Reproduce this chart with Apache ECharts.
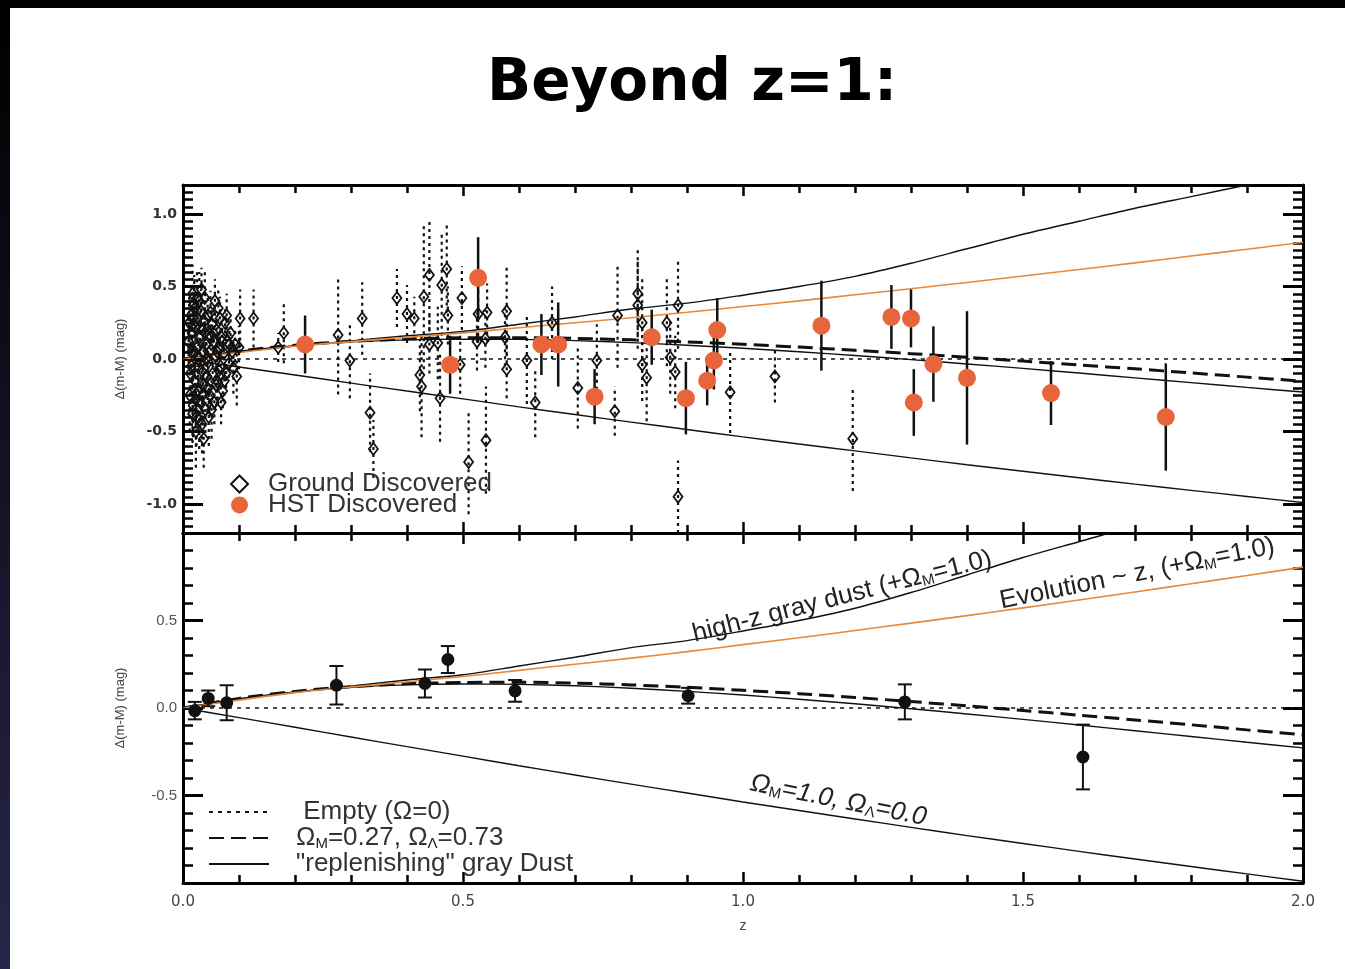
<!DOCTYPE html>
<html>
<head>
    <meta charset="UTF-8" />
    <title>Beyond z=1</title>
    <script src="https://cdn.jsdelivr.net/npm/echarts@6.0.0/dist/echarts.min.js"></script>
    <style>
        html, body { margin: 0; padding: 0; background: #fff; }
        #main { width: 1345px; height: 969px; }
    </style>
</head>
<body>
<div id="main"></div>
<script type="text/javascript">
// model curves, every 0.1 in z
var zGrid = [0.0, 0.1, 0.2, 0.3, 0.4, 0.5, 0.6, 0.7, 0.8, 0.9, 1.0,
             1.1, 1.2, 1.3, 1.4, 1.5, 1.6, 1.7, 1.8, 1.9, 2.0];
var emptyModel = [0, 0, 0, 0, 0, 0, 0, 0, 0, 0, 0, 0, 0, 0, 0, 0, 0, 0, 0, 0, 0];
var lcdmModel = [0, 0.055, 0.095, 0.122, 0.138, 0.146, 0.147, 0.142, 0.132, 0.118, 0.101,
                 0.082, 0.060, 0.037, 0.012, -0.014, -0.041, -0.068, -0.096, -0.125, -0.153];
var grayDustModel = [0, 0.053, 0.092, 0.118, 0.132, 0.137, 0.135, 0.127, 0.113, 0.095, 0.074,
                     0.050, 0.024, -0.004, -0.034, -0.065, -0.097, -0.130, -0.163, -0.196, -0.228];
var highzDustModel = [0, 0.050, 0.090, 0.125, 0.160, 0.190, 0.240, 0.290, 0.345, 0.385, 0.440,
                      0.500, 0.570, 0.660, 0.760, 0.860, 0.950, 1.040, 1.120, 1.200, 1.280];
var evolutionModel = [0, 0.045, 0.088, 0.120, 0.150, 0.180, 0.215, 0.250, 0.285, 0.322, 0.362,
                      0.401, 0.443, 0.485, 0.528, 0.572, 0.617, 0.663, 0.710, 0.757, 0.805];
var edsModel = [0, -0.055, -0.110, -0.166, -0.221, -0.275, -0.330, -0.383, -0.435, -0.486, -0.537,
                -0.586, -0.634, -0.682, -0.729, -0.774, -0.819, -0.863, -0.906, -0.948, -0.990];

// ground discovered SNe (open diamonds, dotted bars)
var gZ = [0.010, 0.012, 0.014, 0.015, 0.016, 0.017, 0.018, 0.019, 0.020, 0.021,
          0.022, 0.023, 0.024, 0.025, 0.026, 0.027, 0.028, 0.029, 0.030, 0.031,
          0.032, 0.033, 0.034, 0.035, 0.036, 0.037, 0.038, 0.039, 0.040, 0.041,
          0.043, 0.044, 0.045, 0.046, 0.047, 0.048, 0.050, 0.052, 0.053, 0.055,
          0.056, 0.058, 0.060, 0.062, 0.063, 0.065, 0.067, 0.069, 0.071, 0.073,
          0.075, 0.077, 0.079, 0.082, 0.085, 0.088, 0.090, 0.093, 0.096, 0.100,
          0.102, 0.126, 0.170, 0.180, 0.277, 0.298, 0.320, 0.334, 0.340, 0.382,
          0.400, 0.413, 0.423, 0.426, 0.430, 0.440, 0.440, 0.455, 0.459, 0.462,
          0.471, 0.473, 0.495, 0.498, 0.510, 0.525, 0.527, 0.540, 0.541, 0.543,
          0.575, 0.578, 0.578, 0.614, 0.629, 0.659, 0.705, 0.739, 0.771, 0.776,
          0.812, 0.812, 0.820, 0.820, 0.828, 0.864, 0.870, 0.879, 0.884, 0.884,
          0.977, 1.057, 1.196,
          0.011, 0.013, 0.015, 0.017, 0.019, 0.021, 0.023, 0.025, 0.027, 0.029,
          0.031, 0.033, 0.035, 0.037, 0.039, 0.042, 0.044, 0.049, 0.051, 0.054,
          0.057, 0.059, 0.061, 0.064, 0.066, 0.068, 0.070, 0.074, 0.078, 0.083];
var gDm = [0.12, -0.25, 0.30, -0.05, 0.18, 0.45, -0.32, 0.05, 0.38, -0.15,
           0.22, -0.50, -0.40, 0.08, 0.28, -0.22, 0.00, 0.40, 0.15, -0.30,
           0.33, -0.08, -0.45, 0.20, -0.18, 0.05, 0.26, 0.42, -0.35, 0.10,
           -0.12, 0.30, -0.02, -0.40, 0.17, -0.25, 0.06, 0.24, -0.10, 0.12,
           -0.30, 0.02, 0.20, -0.16, 0.35, 0.08, -0.05, 0.15, -0.22, 0.04,
           0.25, -0.10, 0.12, -0.03, 0.18, 0.05, -0.06, 0.10, -0.12, 0.08,
           0.28, 0.28, 0.08, 0.18, 0.165, -0.01, 0.28, -0.37, -0.62, 0.42,
           0.31, 0.28, -0.11, -0.19, 0.43, 0.58, 0.10, 0.11, -0.27, 0.51,
           0.62, 0.30, -0.04, 0.42, -0.71, 0.12, 0.31, 0.14, -0.56, 0.32,
           0.15, 0.33, -0.07, -0.01, -0.30, 0.25, -0.20, -0.01, -0.36, 0.30,
           0.45, 0.37, 0.25, -0.04, -0.13, 0.25, 0.01, -0.09, 0.37, -0.95,
           -0.23, -0.12, -0.55,
           0.25, -0.10, 0.05, -0.38, 0.28, 0.35, -0.28, 0.42, -0.05, -0.42,
           0.22, 0.48, -0.25, -0.55, 0.18, 0.00, -0.20, 0.32, -0.35, 0.18,
           0.40, -0.18, 0.05, -0.08, 0.28, -0.30, 0.12, -0.15, 0.30, 0.10];
var gErr = [0.15, 0.25, 0.20, 0.20, 0.18, 0.20, 0.22, 0.15, 0.20, 0.18,
            0.15, 0.25, 0.20, 0.12, 0.15, 0.15, 0.10, 0.20, 0.12, 0.18,
            0.15, 0.12, 0.20, 0.12, 0.14, 0.10, 0.12, 0.18, 0.16, 0.10,
            0.12, 0.14, 0.10, 0.20, 0.10, 0.14, 0.10, 0.12, 0.10, 0.10,
            0.15, 0.09, 0.10, 0.12, 0.14, 0.09, 0.10, 0.10, 0.12, 0.09,
            0.12, 0.10, 0.10, 0.10, 0.12, 0.10, 0.18, 0.12, 0.20, 0.15,
            0.20, 0.20, 0.10, 0.21, 0.41, 0.26, 0.25, 0.27, 0.20, 0.20,
            0.20, 0.15, 0.25, 0.35, 0.50, 0.38, 0.20, 0.25, 0.30, 0.35,
            0.30, 0.20, 0.20, 0.22, 0.36, 0.20, 0.20, 0.20, 0.37, 0.20,
            0.20, 0.30, 0.20, 0.30, 0.24, 0.25, 0.28, 0.25, 0.17, 0.36,
            0.30, 0.30, 0.30, 0.25, 0.30, 0.30, 0.25, 0.25, 0.30, 0.25,
            0.28, 0.18, 0.36,
            0.18, 0.20, 0.15, 0.20, 0.18, 0.20, 0.20, 0.18, 0.15, 0.20,
            0.15, 0.15, 0.18, 0.20, 0.15, 0.15, 0.18, 0.15, 0.20, 0.12,
            0.15, 0.15, 0.12, 0.12, 0.15, 0.15, 0.12, 0.15, 0.15, 0.12];

// HST discovered SNe (orange dots)
var hZ = [0.218, 0.477, 0.527, 0.640, 0.670, 0.735, 0.837, 0.898, 0.936, 0.948,
          0.954, 1.140, 1.265, 1.300, 1.305, 1.340, 1.400, 1.550, 1.755];
var hDm = [0.10, -0.04, 0.56, 0.10, 0.10, -0.26, 0.15, -0.27, -0.15, -0.01,
           0.20, 0.23, 0.29, 0.28, -0.30, -0.035, -0.13, -0.235, -0.40];
var hErr = [0.20, 0.20, 0.28, 0.21, 0.29, 0.19, 0.19, 0.25, 0.17, 0.20,
            0.22, 0.31, 0.22, 0.20, 0.23, 0.26, 0.46, 0.22, 0.37];

// binned data (lower panel)
var bZ = [0.021, 0.045, 0.078, 0.274, 0.432, 0.473, 0.593, 0.902, 1.289, 1.607];
var bDm = [-0.015, 0.055, 0.03, 0.13, 0.14, 0.277, 0.098, 0.07, 0.035, -0.28];
var bErr = [0.05, 0.045, 0.10, 0.11, 0.08, 0.077, 0.062, 0.045, 0.10, 0.185];

// tick labels
var xTicks = [0, 0.5, 1.0, 1.5, 2.0];
var topYTicks = [-1.0, -0.5, 0, 0.5, 1.0];
var bottomYTicks = [-0.5, 0, 0.5];

var NAME_EMPTY = 'Empty (Ω=0)';
var NAME_LCDM = 'ΩM=0.27, ΩΛ=0.73';
var NAME_GRAY = '"replenishing" gray Dust';

var FONT = 'Liberation Sans';
var INK = '#111';
var ORANGE = '#E8643A';

function pairs(xs, ys) {
    return xs.map(function (x, i) { return [x, ys[i]]; });
}
function bars(xs, ys, es) {
    return xs.map(function (x, i) { return [x, ys[i] - es[i], ys[i] + es[i]]; });
}
function fmt(v) { return (Math.abs(v) < 1e-9 ? 0 : v).toFixed(1); }

function errorBar(width, dash, cap) {
    return function (params, api) {
        var lo = api.coord([api.value(0), api.value(1)]);
        var hi = api.coord([api.value(0), api.value(2)]);
        var st = { stroke: INK, lineWidth: width, lineDash: dash };
        var kids = [{ type: 'line', shape: { x1: lo[0], y1: lo[1], x2: hi[0], y2: hi[1] }, style: st }];
        if (cap) {
            kids.push({ type: 'line', shape: { x1: lo[0] - cap, y1: lo[1], x2: lo[0] + cap, y2: lo[1] }, style: st });
            kids.push({ type: 'line', shape: { x1: hi[0] - cap, y1: hi[1], x2: hi[0] + cap, y2: hi[1] }, style: st });
        }
        return { type: 'group', children: kids };
    };
}

function xAxisCfg(grid, pos, labels) {
    return {
        type: 'value', gridIndex: grid, position: pos, min: 0, max: 2, interval: 0.5,
        axisLine: { onZero: false, lineStyle: { color: '#000', width: 3 } },
        axisTick: { inside: true, length: 11, lineStyle: { color: '#000', width: 2.5 } },
        minorTick: { show: true, splitNumber: 5, length: 8, lineStyle: { color: '#000', width: 2.5 } },
        splitLine: { show: false },
        axisLabel: { show: labels, customValues: xTicks, margin: 12, fontSize: 15, color: '#444',
                     fontFamily: 'DejaVu Sans', formatter: fmt },
        name: labels ? 'z' : '', nameLocation: 'middle', nameGap: 36,
        nameTextStyle: { fontSize: 14, color: '#444', fontFamily: FONT }
    };
}

var frameLine = { onZero: false, lineStyle: { color: '#000', width: 3 } };
var noLine = { show: false, onZero: false };

var yAxes = [
    // top panel, left: major ticks + labels
    { type: 'value', gridIndex: 0, position: 'left', min: -1.2, max: 1.2,
      axisLine: frameLine, splitLine: { show: false },
      axisTick: { inside: true, length: 20, customValues: topYTicks, lineStyle: { color: '#000', width: 3 } },
      axisLabel: { customValues: topYTicks, formatter: fmt, margin: 6, fontSize: 14, fontWeight: 'bold',
                   color: '#333', fontFamily: 'DejaVu Sans' },
      name: 'Δ(m-M) (mag)', nameLocation: 'middle', nameGap: 56,
      nameTextStyle: { fontSize: 13, color: '#444', fontFamily: FONT } },
    // top panel, left: minor ticks
    { type: 'value', gridIndex: 0, position: 'left', min: -1.2, max: 1.2, interval: 0.05,
      axisLine: noLine, axisLabel: { show: false }, splitLine: { show: false },
      axisTick: { inside: true, length: 10, lineStyle: { color: '#000', width: 2.5 } } },
    // top panel, right
    { type: 'value', gridIndex: 0, position: 'right', min: -1.2, max: 1.2,
      axisLine: frameLine, splitLine: { show: false }, axisLabel: { show: false },
      axisTick: { inside: true, length: 20, customValues: topYTicks, lineStyle: { color: '#000', width: 3 } } },
    { type: 'value', gridIndex: 0, position: 'right', min: -1.2, max: 1.2, interval: 0.05,
      axisLine: noLine, axisLabel: { show: false }, splitLine: { show: false },
      axisTick: { inside: true, length: 10, lineStyle: { color: '#000', width: 2.5 } } },
    // bottom panel, left
    { type: 'value', gridIndex: 1, position: 'left', min: -1, max: 1, interval: 0.5,
      axisLine: frameLine, splitLine: { show: false },
      axisTick: { inside: true, length: 20, lineStyle: { color: '#000', width: 3 } },
      minorTick: { show: true, splitNumber: 5, length: 10, lineStyle: { color: '#000', width: 2.5 } },
      axisLabel: { customValues: bottomYTicks, formatter: fmt, margin: 6, fontSize: 15,
                   color: '#555', fontFamily: FONT },
      name: 'Δ(m-M) (mag)', nameLocation: 'middle', nameGap: 56,
      nameTextStyle: { fontSize: 13, color: '#444', fontFamily: FONT } },
    // bottom panel, right
    { type: 'value', gridIndex: 1, position: 'right', min: -1, max: 1, interval: 0.5,
      axisLine: frameLine, splitLine: { show: false }, axisLabel: { show: false },
      axisTick: { inside: true, length: 20, lineStyle: { color: '#000', width: 3 } },
      minorTick: { show: true, splitNumber: 5, length: 10, lineStyle: { color: '#000', width: 2.5 } } }
];

function curve(name, ys, xi, yi, style) {
    return { name: name, type: 'line', xAxisIndex: xi, yAxisIndex: yi, data: pairs(zGrid, ys),
             symbol: 'none', smooth: 0.3, silent: true, z: 3, lineStyle: style,
             itemStyle: { color: style.color } };
}

var dotted = { color: INK, width: 1.6, type: [4, 5] };
var dashed = { color: INK, width: 3, type: [15, 7] };
var thin = { color: INK, width: 1.4 };
var orange = { color: '#E8883A', width: 1.6 };

var series = [
    // top panel
    { type: 'custom', name: 'groundErr', xAxisIndex: 0, yAxisIndex: 0, silent: true, z: 1,
      renderItem: errorBar(2.2, [3, 4], 0), encode: { x: 0, y: [1, 2] }, data: bars(gZ, gDm, gErr) },
    curve(NAME_EMPTY, emptyModel, 0, 0, dotted),
    curve(NAME_LCDM, lcdmModel, 0, 0, dashed),
    curve(NAME_GRAY, grayDustModel, 0, 0, thin),
    curve('high-z gray dust', highzDustModel, 0, 0, thin),
    curve('Evolution', evolutionModel, 0, 0, orange),
    curve('EdS', edsModel, 0, 0, thin),
    { name: 'Ground Discovered', type: 'scatter', xAxisIndex: 0, yAxisIndex: 0, z: 4,
      symbol: 'diamond', symbolSize: [9, 12], data: pairs(gZ, gDm),
      itemStyle: { color: 'rgba(255,255,255,0)', borderColor: INK, borderWidth: 1.8, opacity: 1 } },
    { type: 'custom', name: 'hstErr', xAxisIndex: 0, yAxisIndex: 0, silent: true, z: 5,
      renderItem: errorBar(2.5, null, 0), encode: { x: 0, y: [1, 2] }, data: bars(hZ, hDm, hErr) },
    { name: 'HST Discovered', type: 'scatter', xAxisIndex: 0, yAxisIndex: 0, z: 6,
      symbol: 'circle', symbolSize: 18, data: pairs(hZ, hDm), itemStyle: { color: ORANGE, opacity: 1 } },

    // bottom panel
    curve(NAME_EMPTY, emptyModel, 2, 4, dotted),
    curve(NAME_LCDM, lcdmModel, 2, 4, dashed),
    curve(NAME_GRAY, grayDustModel, 2, 4, thin),
    curve('high-z gray dust', highzDustModel, 2, 4, thin),
    curve('Evolution', evolutionModel, 2, 4, orange),
    curve('EdS', edsModel, 2, 4, thin),
    { type: 'custom', name: 'binErr', xAxisIndex: 2, yAxisIndex: 4, silent: true, z: 5,
      renderItem: errorBar(2, null, 7), encode: { x: 0, y: [1, 2] }, data: bars(bZ, bDm, bErr) },
    { name: 'binned', type: 'scatter', xAxisIndex: 2, yAxisIndex: 4, z: 6,
      symbol: 'circle', symbolSize: 13, data: pairs(bZ, bDm), itemStyle: { color: INK, opacity: 1 } }
];

var sub = { fontSize: 15, verticalAlign: 'bottom', lineHeight: 15, fontFamily: FONT, color: '#222' };

var option = {
    animation: false,
    backgroundColor: '#fff',
    title: {
        text: 'Beyond z=1:', left: 482, top: 51,
        textStyle: { fontSize: 58, fontWeight: 'bold', fontFamily: 'DejaVu Sans', color: '#000' }
    },
    grid: [
        { left: 183, top: 185, width: 1120, height: 348 },
        { left: 183, top: 533, width: 1120, height: 350 }
    ],
    xAxis: [xAxisCfg(0, 'bottom', false), xAxisCfg(0, 'top', false),
            xAxisCfg(1, 'bottom', true), xAxisCfg(1, 'top', false)],
    yAxis: yAxes,
    legend: [
        { data: ['Ground Discovered', 'HST Discovered'], orient: 'vertical', left: 225, top: 466,
          itemWidth: 17, itemHeight: 17, itemGap: -5, selectedMode: false,
          textStyle: { fontSize: 26, color: '#333', fontFamily: FONT, lineHeight: 22, padding: [0, 0, 0, 15] } },
        { data: [NAME_EMPTY, NAME_LCDM, NAME_GRAY], orient: 'vertical', left: 203, top: 794,
          itemWidth: 60, itemHeight: 14, itemGap: 0, selectedMode: false,
          itemStyle: { color: 'rgba(0,0,0,0)', borderWidth: 0, opacity: 0 },
          formatter: function (name) {
              if (name === NAME_LCDM) return 'Ω{s|M}=0.27, Ω{s|Λ}=0.73';
              if (name === NAME_EMPTY) return ' Empty (Ω=0)';
              return name;
          },
          textStyle: { fontSize: 26, color: '#333', fontFamily: FONT, lineHeight: 26, padding: [0, 0, 0, 22],
                       rich: { s: sub } } }
    ],
    series: series
};

var myChart = echarts.init(document.getElementById('main'));
myChart.setOption(option);

// frame strips and rotated curve labels
function at(z, dm) {
    return myChart.convertToPixel({ xAxisIndex: 2, yAxisIndex: 4 }, [z, dm]);
}
function note(z, dm, angle, text, italic) {
    var p = at(z, dm);
    return { type: 'text', x: p[0], y: p[1], rotation: angle * Math.PI / 180, z: 10,
             style: { text: text, fontSize: 26, fontFamily: FONT, fill: '#222', fontStyle: italic ? 'italic' : 'normal',
                      align: 'center', verticalAlign: 'middle', rich: { s: sub } } };
}
myChart.setOption({
    graphic: [
        { type: 'rect', shape: { x: 0, y: 0, width: 1345, height: 8 }, style: { fill: '#000' } },
        { type: 'rect', shape: { x: 0, y: 0, width: 10, height: 969 },
          style: { fill: new echarts.graphic.LinearGradient(0, 0, 0, 1, [
              { offset: 0, color: '#000' }, { offset: 1, color: '#26264a' }]) } },
        note(1.177, 0.636, 14.3, 'high-z gray dust (+Ω{s|M}=1.0)', false),
        note(1.704, 0.767, 11.4, 'Evolution ~ z, (+Ω{s|M}=1.0)', false),
        note(1.170, -0.528, -11.3, 'Ω{s|M}=1.0, Ω{s|Λ}=0.0', true)
    ]
});
</script>
</body>
</html>
